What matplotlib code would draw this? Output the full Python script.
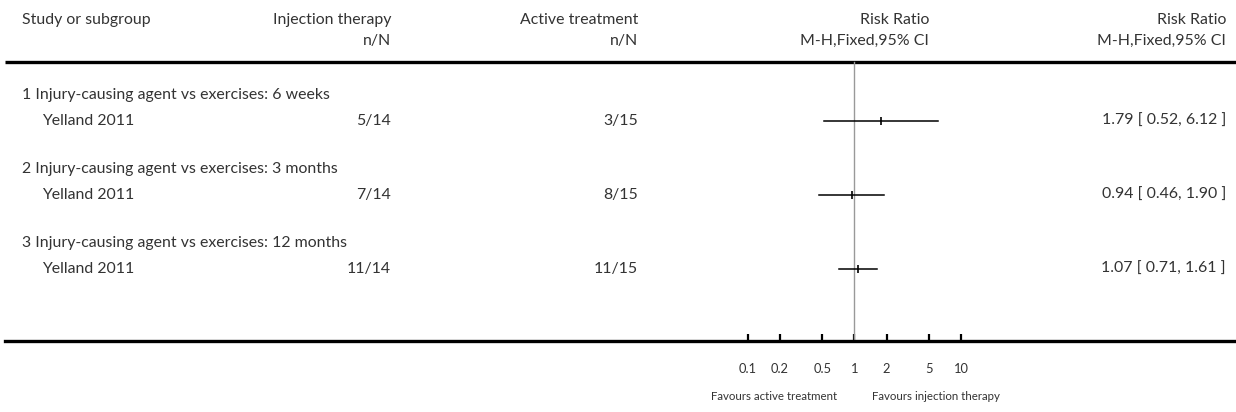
import matplotlib
matplotlib.use("Agg")
import matplotlib.pyplot as plt
import numpy as np

plt.rcParams['font.family'] = ['Lato', 'DejaVu Sans']

# ---- data ----
group_titles = ["1 Injury-causing agent vs exercises: 6 weeks",
                "2 Injury-causing agent vs exercises: 3 months",
                "3 Injury-causing agent vs exercises: 12 months"]
study_names = ["Yelland 2011", "Yelland 2011", "Yelland 2011"]
inj_nN = ["5/14", "7/14", "11/14"]
act_nN = ["3/15", "8/15", "11/15"]
rr = [1.79, 0.94, 1.07]
ci_low = [0.52, 0.46, 0.71]
ci_high = [6.12, 1.90, 1.61]
rr_text = ["1.79 [ 0.52, 6.12 ]", "0.94 [ 0.46, 1.90 ]", "1.07 [ 0.71, 1.61 ]"]
tick_vals = [0.1, 0.2, 0.5, 1, 2, 5, 10]
tick_labels = ["0.1", "0.2", "0.5", "1", "2", "5", "10"]

W, H = 1236, 412
fig = plt.figure(figsize=(W / 100, H / 100), dpi=100)

# text overlay axes (pixel coords)
tax = fig.add_axes([0, 0, 1, 1])
tax.set_xlim(0, W)
tax.set_ylim(H, 0)
tax.axis('off')

TC = '#333333'
FS = 11.4

# header
hy1, hy2 = 20, 41
tax.text(22, hy1, "Study or subgroup", ha='left', va='center', fontsize=FS, color=TC)
tax.text(391, hy1, "Injection therapy", ha='right', va='center', fontsize=FS, color=TC)
tax.text(391, hy2, "n/N", ha='right', va='center', fontsize=FS, color=TC)
tax.text(638, hy1, "Active treatment", ha='right', va='center', fontsize=FS, color=TC)
tax.text(638, hy2, "n/N", ha='right', va='center', fontsize=FS, color=TC)
tax.text(929, hy1, "Risk Ratio", ha='right', va='center', fontsize=FS, color=TC)
tax.text(929, hy2, "M-H,Fixed,95% CI", ha='right', va='center', fontsize=FS, color=TC)
tax.text(1226, hy1, "Risk Ratio", ha='right', va='center', fontsize=FS, color=TC)
tax.text(1226, hy2, "M-H,Fixed,95% CI", ha='right', va='center', fontsize=FS, color=TC)
tax.plot([5, W], [62, 62], color='black', lw=2.4, solid_capstyle='butt')

row_y = [121, 195, 269]
head_off = 26
for i in range(3):
    y = row_y[i]
    tax.text(22, y - head_off, group_titles[i], ha='left', va='center', fontsize=FS, color=TC)
    tax.text(42, y, study_names[i], ha='left', va='center', fontsize=FS, color=TC)
    tax.text(391, y, inj_nN[i], ha='right', va='center', fontsize=FS, color=TC)
    tax.text(638, y, act_nN[i], ha='right', va='center', fontsize=FS, color=TC)
    tax.text(1226, y, rr_text[i], ha='right', va='center', fontsize=FS, color=TC)

tax.text(837, 397, "Favours active treatment", ha='right', va='center', fontsize=8.3, color=TC)
tax.text(872, 397, "Favours injection therapy", ha='left', va='center', fontsize=8.3, color=TC)

# forest axes: log scale with 0.1 at px 748 and 10 at px 961
x_left_px, x_right_px = 5, W
dec = (961 - 748) / 2.0
lo = 10 ** (-1 - (748 - x_left_px) / dec)
hi = 10 ** (1 + (x_right_px - 961) / dec)
fax = fig.add_axes([x_left_px / W, 0, (x_right_px - x_left_px) / W, 1])
fax.patch.set_alpha(0)
fax.set_xscale('log')
fax.set_xlim(lo, hi)
fax.set_ylim(H, 0)
for s in ['top', 'left', 'right']:
    fax.spines[s].set_visible(False)
fax.spines['bottom'].set_position(('data', 341))
fax.spines['bottom'].set_linewidth(2.4)
fax.set_yticks([])
fax.set_xticks(tick_vals)
fax.set_xticklabels(tick_labels)
fax.xaxis.set_minor_locator(matplotlib.ticker.NullLocator())
fax.tick_params(axis='x', direction='in', length=5, width=1.6, pad=16, labelsize=9.3, labelcolor=TC)

fax.plot([1, 1], [62, 341], color='#999999', lw=1.0)
for i in range(3):
    fax.plot([ci_low[i], ci_high[i]], [row_y[i], row_y[i]], color='black', lw=1.1)
    fax.plot([rr[i]], [row_y[i]], marker='|', color='black', markersize=6, mew=1.2)

fig.savefig("out.png", dpi=100)
